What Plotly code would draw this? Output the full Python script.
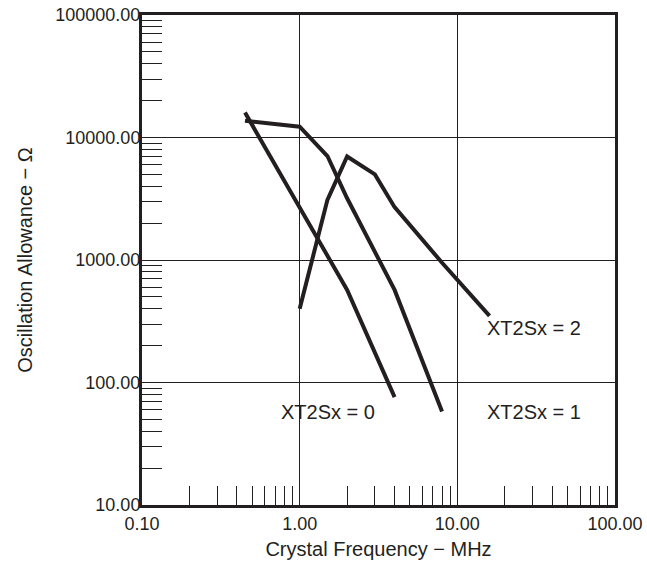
import math
import plotly.graph_objects as go

# Data
xt0_freq = [0.45, 2.0, 4.0]
xt0_allow = [16000, 570, 76]

xt1_freq = [0.45, 1.0, 1.5, 2.0, 4.0, 8.0]
xt1_allow = [13700, 12250, 7060, 3190, 570, 58]

xt2_freq = [1.0, 1.5, 2.0, 3.0, 4.0, 8.0, 16.0]
xt2_allow = [400, 3100, 7000, 5000, 2700, 950, 350]

x_tickvals = [0.1, 1, 10, 100]
x_ticktext = ["0.10", "1.00", "10.00", "100.00"]
y_tickvals = [10, 100, 1000, 10000, 100000]
y_ticktext = ["10.00", "100.00", "1000.00", "10000.00", "100000.00"]

labels = ["XT2Sx = 0", "XT2Sx = 1", "XT2Sx = 2"]
label_x = [1.51, 30.6, 30.6]
label_y = [57, 57, 279]

INK = "#231f20"
FONT = "Liberation Sans, Arial, sans-serif"

# minor tick positions: 2..9 within each decade
x_minor = [k * 10 ** e for e in range(-1, 2) for k in range(2, 10)]
y_minor = [k * 10 ** e for e in range(1, 5) for k in range(2, 10)]

fig = go.Figure()
for fx, ry in [(xt0_freq, xt0_allow), (xt1_freq, xt1_allow), (xt2_freq, xt2_allow)]:
    fig.add_trace(go.Scatter(x=fx, y=ry, mode="lines",
                             line=dict(color=INK, width=4), showlegend=False,
                             hoverinfo="skip"))

for t, lx, ly in zip(labels, label_x, label_y):
    fig.add_annotation(x=math.log10(lx), y=math.log10(ly), text=t, showarrow=False,
                       xref="x", yref="y", font=dict(family=FONT, size=20, color=INK))

axis_common = dict(
    type="log",
    showline=True, linewidth=3, linecolor=INK, mirror=True,
    showgrid=True, gridcolor=INK, gridwidth=1,
    ticks="", zeroline=False,
    tickfont=dict(family=FONT, size=18, color=INK),
    ticklabeloverflow="allow",
)

fig.update_xaxes(
    **axis_common,
    range=[-1, 2],
    tickvals=x_tickvals, ticktext=x_ticktext,
    minor=dict(ticks="inside", ticklen=19, tickwidth=1, tickcolor=INK,
               tickvals=x_minor, showgrid=False),
    title=dict(text="Crystal Frequency − MHz",
               font=dict(family=FONT, size=20, color=INK), standoff=10),
    ticklabelstandoff=0,
)
fig.update_yaxes(
    **axis_common,
    range=[1, 5],
    tickvals=y_tickvals, ticktext=y_ticktext,
    minor=dict(ticks="inside", ticklen=20, tickwidth=1, tickcolor=INK,
               tickvals=y_minor, showgrid=False),
    title=dict(text="Oscillation Allowance − Ω",
               font=dict(family=FONT, size=20, color=INK), standoff=18),
    ticklabelstandoff=-5,
)

fig.update_layout(
    width=647, height=576,
    margin=dict(l=142, r=32, t=15, b=71, autoexpand=False),
    paper_bgcolor="white", plot_bgcolor="white",
    font=dict(family=FONT, color=INK),
)

fig.write_html("out.html",
               config={"displayModeBar": False},
               post_script="document.body.style.margin='0';document.body.style.overflow='hidden';")
